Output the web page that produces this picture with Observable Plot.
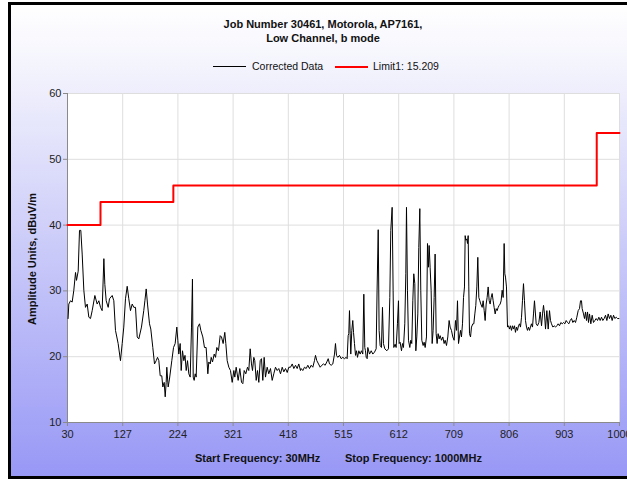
<!DOCTYPE html>
<html><head><meta charset="utf-8">
<script src="https://cdn.jsdelivr.net/npm/d3@7"></script>
<script src="https://cdn.jsdelivr.net/npm/@observablehq/plot@0.6"></script>
<style>
html,body{margin:0;padding:0;background:#fff;}
#wrap{position:relative;width:627px;height:479px;overflow:hidden;background:#fff;}
#box{position:absolute;left:8px;top:2px;width:640px;height:471px;border-left:3px solid #000;border-top:3px solid #000;border-bottom:3px solid #000;
 background:linear-gradient(to bottom,#ffffff 0px,#f4f4fd 60px,#c9c9f9 250px,#9898f6 471px);}
.t{position:absolute;font-family:"Liberation Sans",Arial,sans-serif;color:#111;white-space:nowrap;}
#title{left:0;width:646px;top:17px;text-align:center;font-weight:bold;font-size:11px;line-height:14px;}
#chart{position:absolute;left:0;top:0;}
</style></head><body>
<div id="wrap">
<div id="box"></div>
<div id="chart"></div>
<div class="t" id="title"></div>
</div>
<script>
const titleLines = ["Job Number 30461, Motorola, AP7161,", "Low Channel, b mode"];
const seriesNames = ["Corrected Data", "Limit1: 15.209"];
const xTicks = [30,127,224,321,418,515,612,709,806,903,1000];
const yTicks = [10,20,30,40,50,60];
const xLabelStart = "Start Frequency: 30MHz";
const xLabelStop = "Stop Frequency: 1000MHz";
const yLabel = "Amplitude Units, dBuV/m";

const limitFreq = [30, 88, 216, 960, 1000];
const limitAmp  = [40, 43.5, 46, 54, 54];

const freq = [
31.0,32.3,35.3,38.2,41.1,44.1,45.8,48.8,51.1,53.4,55.8,58.7,61.6,64.6,67.5,70.4,73.4,78.1,82.1,85.1,88.0,90.9,93.9,95.6,98.0,101.5,103.8,108.5,111.4,114.3,119.0,123.1,126.1,128.9,131.9,134.9,137.7,140.7,143.7,146.5,149.5,152.5,155.3,160.0,164.0,
166.0,168.3,170.6,174.1,176.4,179.9,182.9,185.9,188.2,190.5,192.9,195.7,197.5,199.9,201.7,203.4,204.5,206.9,209.2,213.3,216.3,219.2,222.1,223.9,225.6,228.0,229.8,232.1,234.4,236.5,238.6,240.9,243.2,245.6,247.9,249.6,250.9,252.6,254.4,256.1,259.0,262.0,264.3,267.8,270.7,273.6,276.6,278.3,280.8,282.5,284.8,287.8,290.1,292.4,295.3,298.3,300.6,
303.5,306.4,308.2,310.6,313.5,316.4,319.4,322.3,324.0,326.4,329.9,332.8,335.8,338.1,340.5,343.3,346.3,348.6,351.0,353.3,355.1,357.4,359.1,361.6,363.9,366.2,368.6,370.9,373.2,375.6,377.9,380.9,383.7,386.7,389.7,392.5,395.5,398.5,401.3,404.3,407.3,410.1,413.1,416.1,418.9,421.9,424.9,427.7,430.7,433.6,436.4,
439.4,440.6,443.5,446.4,449.4,452.3,455.2,458.2,461.1,464.0,465.8,468.1,471.1,474.0,476.9,479.8,482.8,485.7,488.1,490.4,493.3,496.2,499.2,500.9,502.7,505.0,507.9,510.9,513.8,516.7,519.7,521.4,523.2,524.3,525.5,526.7,527.8,529.6,531.3,532.6,534.3,536.1,537.8,539.6,541.9,544.3,546.6,548.9,550.7,552.4,553.6,554.9,556.6,557.7,560.7,563.7,566.5,569.5,572.4,
574.0,576.0,577.6,579.4,581.7,583.5,585.2,587.6,591.1,594.0,596.4,598.1,600.5,602.2,603.4,605.7,607.5,609.8,611.6,612.8,614.5,616.9,618.6,620.4,622.7,624.5,625.7,627.4,629.2,631.5,633.3,635.0,636.8,638.5,640.3,642.1,643.8,645.6,647.3,649.1,650.8,652.6,654.9,656.7,658.5,660.8,662.6,664.3,665.5,667.2,669.0,670.8,672.5,674.3,676.0,677.8,679.5,681.3,683.1,684.8,687.2,689.5,691.8,693.6,696.0,698.3,700.6,702.4,704.7,707.1,709.4,711.8,
713.6,715.3,717.1,718.8,720.6,722.3,724.1,725.9,727.6,728.8,730.0,731.7,732.9,734.1,735.2,736.4,738.2,739.9,742.3,744.0,745.8,747.5,749.3,751.0,752.8,754.6,756.3,758.7,760.4,762.2,763.9,765.7,767.4,769.2,771.0,772.7,774.5,776.2,778.0,779.7,781.5,783.3,785.0,786.8,788.5,790.3,792.0,793.8,795.6,797.3,798.5,799.7,801.4,803.2,804.9,806.7,808.4,810.2,812.0,813.7,815.5,817.2,819.0,820.7,822.5,824.3,826.0,827.8,829.5,831.3,833.0,834.8,836.6,838.3,840.1,841.8,843.6,845.3,847.1,848.9,850.6,
853.6,855.9,858.3,860.6,863.0,864.7,866.5,868.2,870.0,872.3,874.7,877.0,878.8,880.5,882.9,885.2,887.6,889.9,892.2,894.6,896.9,899.3,901.6,904.0,906.3,908.6,911.0,913.3,915.7,918.0,920.4,922.7,925.0,927.4,929.7,931.5,933.2,934.4,936.8,938.5,940.3,942.0,943.8,945.5,947.3,949.6,952.0,954.3,956.7,959.0,961.4,963.7,966.0,968.4,970.7,973.1,975.4,977.8,980.1,982.4,984.8,987.1,989.5,991.8,994.2,996.5,998.9
];
const amp = [
25.8,28.0,28.5,28.3,30.1,32.8,31.6,33.0,39.2,39.2,35.6,30.1,27.5,28.0,26.0,25.8,27.0,29.3,28.0,28.5,27.5,27.0,34.9,31.0,28.5,27.5,28.8,29.3,28.5,24.0,22.0,19.4,22.0,24.5,28.8,30.7,28.8,27.0,28.0,27.5,27.5,23.0,22.7,24.5,27.0,
28.5,30.3,28.0,25.0,24.2,21.4,18.9,19.4,19.9,19.4,17.1,17.1,15.4,16.1,13.9,16.1,18.4,15.4,16.6,19.4,21.4,22.0,24.5,22.5,20.4,22.0,17.9,20.9,19.4,20.2,17.9,19.4,17.4,16.9,24.5,31.8,16.9,16.4,17.4,16.9,24.5,25.0,24.0,23.0,21.4,21.4,17.4,19.2,18.9,19.9,19.2,20.4,19.9,21.4,20.9,23.2,23.0,
22.0,23.7,22.0,19.4,18.4,17.9,16.1,17.9,16.9,18.4,16.4,18.2,16.1,15.9,17.9,17.4,18.4,17.9,21.2,18.9,17.9,19.9,19.4,16.4,17.9,16.1,19.4,19.7,16.4,19.9,16.9,18.4,17.4,18.2,16.4,17.4,18.4,17.9,18.2,17.4,18.4,17.7,18.2,17.6,18.4,18.4,18.9,18.2,18.7,18.2,18.9,
17.9,18.2,17.9,18.4,18.2,18.7,18.2,18.7,18.4,19.4,20.2,19.4,18.9,18.4,18.7,18.9,18.7,19.2,19.7,18.9,18.7,18.9,20.4,22.0,20.2,19.9,20.2,19.7,19.9,19.7,19.9,19.7,23.2,23.5,27.0,23.5,20.4,24.0,25.5,23.7,22.0,20.2,20.9,19.9,20.9,20.4,20.9,20.4,29.5,21.4,20.9,19.9,19.7,21.4,20.4,20.9,20.4,20.7,21.2,
30.0,39.3,24.0,21.7,21.4,27.5,22.0,21.2,20.9,21.2,29.0,39.2,42.7,30.1,21.4,21.9,21.4,25.0,28.5,22.0,22.2,20.9,22.0,21.4,25.0,32.6,42.7,30.1,22.5,21.4,22.5,22.0,28.5,32.6,31.1,20.9,23.0,26.5,36.6,42.5,30.1,22.5,21.7,22.2,21.4,23.0,37.2,33.6,36.9,33.6,30.1,22.0,24.0,29.0,35.6,23.5,22.0,23.5,22.7,23.2,22.5,23.0,22.0,22.5,21.7,23.0,25.5,24.5,24.0,23.0,22.5,25.5,
24.0,28.5,22.0,23.0,24.0,23.0,25.0,29.0,30.6,38.4,37.7,37.9,37.2,38.4,30.6,23.5,23.0,24.5,25.0,25.0,26.5,27.8,30.6,35.1,29.0,28.5,28.0,27.5,28.5,27.0,25.5,28.0,29.0,30.6,28.5,28.0,29.0,29.6,28.5,27.5,26.5,27.3,27.0,27.5,27.8,28.0,28.5,30.1,29.0,37.2,32.6,32.1,30.6,24.5,24.7,24.2,24.7,24.0,24.7,24.2,24.7,23.7,24.5,24.0,24.7,25.0,24.5,26.0,28.5,31.1,28.5,25.5,24.5,24.0,24.5,24.0,24.5,25.0,24.5,26.5,28.5,
25.0,24.7,25.2,26.8,24.7,26.5,27.8,26.5,24.2,27.0,24.2,27.0,25.5,25.0,24.5,24.7,24.5,24.7,25.0,24.7,25.2,25.0,25.2,25.0,25.5,25.2,25.0,25.5,25.8,25.2,25.5,25.2,26.0,27.0,27.3,28.5,28.5,27.3,26.5,25.8,26.8,25.5,26.8,25.2,26.5,25.0,26.3,25.2,25.5,25.8,25.5,26.0,25.5,26.0,25.5,25.8,26.3,25.5,26.5,25.8,26.3,25.5,26.3,25.8,26.0,25.8,25.8
];

const data = freq.map((f, i) => ({f, v: amp[i]}));
const limit = limitFreq.map((f, i) => ({f, v: limitAmp[i]}));

const tickFont = "'Liberation Sans', Arial, sans-serif";
const chart = Plot.plot({
  width: 627, height: 479,
  marginLeft: 67, marginRight: 8, marginTop: 93, marginBottom: 57,
  style: {background: "transparent", fontFamily: tickFont, fontSize: "11px", color: "#222"},
  x: {domain: [30, 1000], ticks: xTicks},
  y: {domain: [10, 60], ticks: yTicks},
  marks: [
    Plot.frame({fill: "white", stroke: "#e2e2e2"}),
    Plot.gridX(xTicks, {stroke: "#dedede", strokeOpacity: 1}),
    Plot.gridY(yTicks, {stroke: "#dedede", strokeOpacity: 1}),
    Plot.ruleX([30], {stroke: "#8a8a8a"}),
    Plot.ruleY([10], {stroke: "#8a8a8a"}),
    Plot.axisX(xTicks, {tickSize: 4, tickPadding: 4, stroke: "#8a8a8a", fill: "#222", label: null, fontSize: 11, tickFormat: d => String(d)}),
    Plot.axisY(yTicks, {tickSize: 4, tickPadding: 2, stroke: "#8a8a8a", fill: "#222", label: null, fontSize: 11, tickFormat: d => String(d)}),
    Plot.line(data, {x: "f", y: "v", stroke: "black", strokeWidth: 1}),
    Plot.line(limit, {x: "f", y: "v", stroke: "#ff0000", strokeWidth: 2, curve: "step-after"})
  ]
});
document.getElementById("chart").appendChild(chart);

document.getElementById("title").innerHTML = titleLines.join("<br>");
const wrap = document.getElementById("wrap");
function addText(txt, css) {
  const d = document.createElement("div");
  d.className = "t";
  d.textContent = txt;
  Object.assign(d.style, css);
  wrap.appendChild(d);
  return d;
}
function addLine(left, top, w, h, color) {
  const d = document.createElement("div");
  Object.assign(d.style, {position: "absolute", left: left + "px", top: top + "px", width: w + "px", height: h + "px", background: color});
  wrap.appendChild(d);
}
// legend
addLine(213, 66, 33, 1, "#000");
addText(seriesNames[0], {left: "252px", top: "60px", fontSize: "10.5px"});
addLine(335, 66, 33, 2, "#ff0000");
addText(seriesNames[1], {left: "373px", top: "60px", fontSize: "10.5px"});
// axis titles
addText(xLabelStart, {left: "195px", top: "452px", fontSize: "11px", fontWeight: "bold"});
addText(xLabelStop, {left: "345px", top: "452px", fontSize: "11px", fontWeight: "bold"});
addText(yLabel, {left: "32px", top: "259px", fontSize: "11px", fontWeight: "bold", transform: "translate(-50%,-50%) rotate(-90deg)"});
</script>
</body></html>
